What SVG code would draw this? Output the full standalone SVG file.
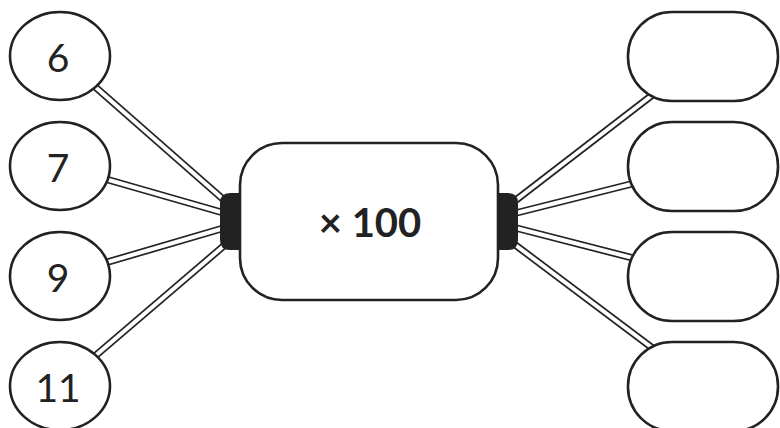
<svg xmlns="http://www.w3.org/2000/svg" width="780" height="428" viewBox="0 0 780 428">
<style>
.wire-o{stroke:#222;stroke-width:7.4;fill:none}
.wire-i{stroke:#fff;stroke-width:4;fill:none}
.node{fill:#fff;stroke:#222;stroke-width:2.6}
.tab{fill:#222}
.num{font-family:Lato,"Liberation Sans",sans-serif;font-size:39px;fill:#222;text-anchor:middle;dominant-baseline:central}
.op{font-family:Lato,"Liberation Sans",sans-serif;font-size:40px;font-weight:bold;fill:#222;text-anchor:middle;dominant-baseline:central}
</style>
<rect width="780" height="428" fill="#fff"/>
<g id="connectors">
  <g class="wire-o">
    <line x1="60" y1="56" x2="224" y2="200"/>
    <line x1="60" y1="166" x2="224" y2="213"/>
    <line x1="60" y1="276" x2="224" y2="228"/>
    <line x1="60" y1="386" x2="226" y2="244"/>
    <line x1="516" y1="200" x2="703" y2="56"/>
    <line x1="516" y1="213" x2="703" y2="166"/>
    <line x1="516" y1="228" x2="703" y2="276"/>
    <line x1="514" y1="244" x2="703" y2="386"/>
  </g>
  <g class="wire-i">
    <line x1="60" y1="56" x2="224" y2="200"/>
    <line x1="60" y1="166" x2="224" y2="213"/>
    <line x1="60" y1="276" x2="224" y2="228"/>
    <line x1="60" y1="386" x2="226" y2="244"/>
    <line x1="516" y1="200" x2="703" y2="56"/>
    <line x1="516" y1="213" x2="703" y2="166"/>
    <line x1="516" y1="228" x2="703" y2="276"/>
    <line x1="514" y1="244" x2="703" y2="386"/>
  </g>
</g>
<g id="in-6"><ellipse class="node" cx="60" cy="56" rx="50" ry="44"/><text class="num" x="58" y="57">6</text></g>
<g id="in-7"><ellipse class="node" cx="60" cy="166" rx="50" ry="44"/><text class="num" x="58" y="167">7</text></g>
<g id="in-9"><ellipse class="node" cx="60" cy="276" rx="50" ry="44"/><text class="num" x="58" y="277">9</text></g>
<g id="in-11"><ellipse class="node" cx="60" cy="386" rx="50" ry="44"/><text class="num" x="58" y="387">11</text></g>
<g id="machine">
  <path class="tab" d="M244,193 H230 Q220,193 220,203 V240 Q220,250 230,250 H244 Z"/>
  <path class="tab" d="M494,193 H508 Q518,193 518,203 V240 Q518,250 508,250 H494 Z"/>
  <rect class="node" x="240" y="143" width="258" height="157" rx="42" ry="42"/>
  <text class="op" x="370" y="222">× 100</text>
</g>
<g id="out-1"><rect class="node" x="628" y="12" width="150" height="89" rx="44" ry="44"/></g>
<g id="out-2"><rect class="node" x="628" y="122" width="150" height="89" rx="44" ry="44"/></g>
<g id="out-3"><rect class="node" x="628" y="232" width="150" height="89" rx="44" ry="44"/></g>
<g id="out-4"><rect class="node" x="628" y="342" width="150" height="89" rx="44" ry="44"/></g>
</svg>
